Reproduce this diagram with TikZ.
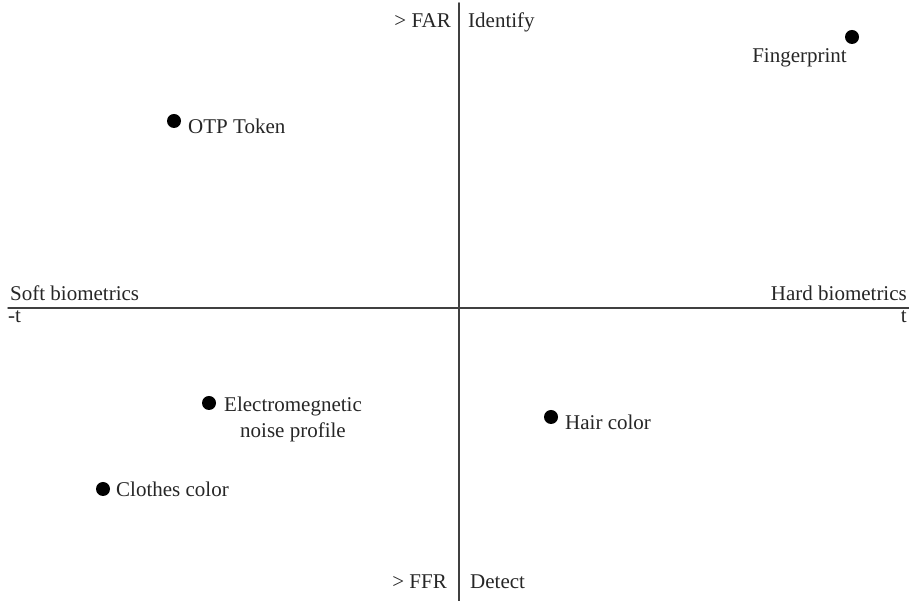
\documentclass[tikz,border=0pt]{standalone}
\usepackage{fontspec}
\setmainfont{Liberation Serif}
\usetikzlibrary{positioning}
\tikzset{
  axisline/.style={line width=1.5pt,color=black!75},
  dotpt/.style={circle,fill=black,inner sep=0pt,minimum size=14pt},
  lbl/.style={inner sep=0pt,font=\fontsize{21}{26}\selectfont,text=black!85}
}
\begin{document}
\begin{tikzpicture}[line cap=round,line join=round,x=1pt,y=1pt]
		\useasboundingbox (0,0) rectangle (909,601);
		% axes
		\coordinate (top) at (459,598);
		\coordinate (bot) at (459,0);
		\coordinate (lft) at (8,293);
		\coordinate (rgt) at (909,293);
		\draw [axisline] (top) -- (bot);
		\draw [axisline] (lft) -- (rgt);
		% axis labels
		\node [lbl,anchor=base east] (far) at (451,573) {> FAR};
		\node [lbl,anchor=base west] (identify) at (468,573) {Identify};
		\node [lbl,anchor=base east] (ffr) at (447,12) {> FFR};
		\node [lbl,anchor=base west] (detect) at (470,12) {Detect};
		\node [lbl,anchor=base west] (soft) at (10,300) {Soft biometrics};
		\node [lbl,anchor=base west] (mint) at (8,278) {-t};
		\node [lbl,anchor=base east] (hard) at (907,300) {Hard biometrics};
		\node [lbl,anchor=base east] (plust) at (907,278) {t};
		% points
		\node [dotpt] (fp) at (852,564) {};
		\node [lbl,anchor=base east] (fplbl) at (847,538) {Fingerprint};
		\node [dotpt] (otp) at (174,480) {};
		\node [lbl,anchor=base west] (otplbl) at (188,467) {OTP Token};
		\node [dotpt] (em) at (209,198) {};
		\node [lbl,anchor=north west,align=center] (emlbl) at (224,204) {Electromegnetic\\noise profile};
		\node [dotpt] (hair) at (551,184) {};
		\node [lbl,anchor=base west] (hairlbl) at (565,171) {Hair color};
		\node [dotpt] (cloth) at (103,112) {};
		\node [lbl,anchor=base west] (clothlbl) at (116,104) {Clothes color};
	\end{tikzpicture}
\end{document}
